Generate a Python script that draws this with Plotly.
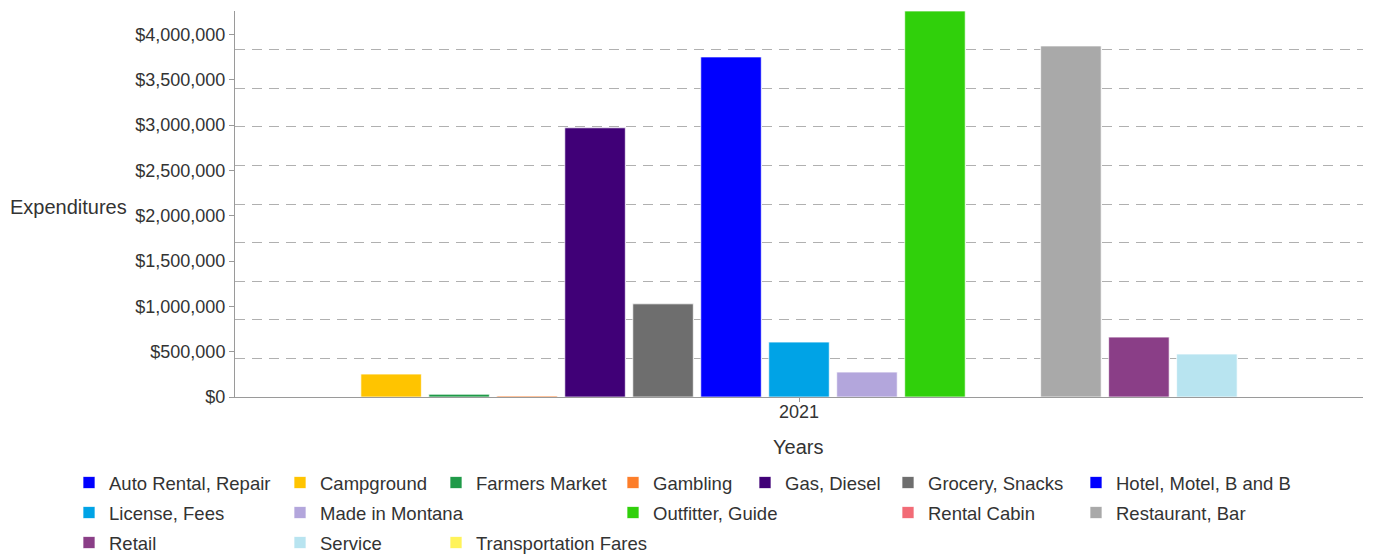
import plotly.graph_objects as go

# ---------------- data ----------------
years = ["2021"]
categories = [
    "Auto Rental, Repair", "Campground", "Farmers Market", "Gambling",
    "Gas, Diesel", "Grocery, Snacks", "Hotel, Motel, B and B",
    "License, Fees", "Made in Montana", "Outfitter, Guide", "Rental Cabin",
    "Restaurant, Bar", "Retail", "Service", "Transportation Fares",
]
values_2021 = [
    0, 253000, 30000, 12000,
    2971000, 1028000, 3753000,
    606000, 275000, 4260000, 0,
    3874000, 661000, 474000, 0,
]
colors = [
    "#0000FF", "#FFC400", "#1F9A48", "#FD7E2A",
    "#400077", "#6E6E6E", "#0000FF",
    "#00A3E6", "#B3A6DC", "#30D00B", "#F26B76",
    "#A9A9A9", "#8A3E87", "#B8E4F0", "#FFF35A",
]
ytick_vals = [0, 500000, 1000000, 1500000, 2000000, 2500000, 3000000, 3500000, 4000000]
ytick_text = ["$0", "$500,000", "$1,000,000", "$1,500,000", "$2,000,000",
              "$2,500,000", "$3,000,000", "$3,500,000", "$4,000,000"]

# ---------------- layout geometry (screen pixels) ----------------
OFF = 8                      # default page body margin
W, H = 1373 - OFF, 556 - OFF
PX0, PX1, PY0, PY1 = 235, 1363, 11, 397   # plot area in screen pixels
L, R = PX0 - OFF, W - (PX1 - OFF)
T, B = PY0 - OFF, H - (PY1 - OFF)
pw, ph = PX1 - PX0, PY1 - PY0
FONT = "Liberation Sans, Arial, sans-serif"
TXT = "#333333"
FS_TICK = 18
FS_LEG = 18.5
FS_TITLE = 20

# legend grid: (text-left px, row center px) per item, screen pixels
legend_pos = [
    (109, 483), (320, 483), (476, 483), (653, 483), (785, 483), (928, 483), (1116, 483),
    (109, 513), (320, 513), (653, 513), (928, 513), (1116, 513),
    (109, 543), (320, 543), (476, 543),
]

ymax = max(values_2021)

fig = go.Figure()
for i, (name, val, col) in enumerate(zip(categories, values_2021, colors)):
    fig.add_trace(go.Bar(
        x=years, y=[val], name=name,
        marker=dict(color=col, line=dict(color="rgba(255,255,255,0.7)", width=1)),
        legend="legend" if i == 0 else f"legend{i+1}",
    ))

# invisible trace on overlay axis for the dashed grid
fig.add_trace(go.Scatter(x=years, y=[0], yaxis="y2", mode="markers",
                         marker=dict(opacity=0), showlegend=False, hoverinfo="skip"))

legends = {}
for i, (tx, ry) in enumerate(legend_pos):
    key = "legend" if i == 0 else f"legend{i+1}"
    legends[key] = dict(
        xref="container", yref="container",
        x=(tx - OFF - 40) / W, y=(H - (ry - OFF)) / H,
        xanchor="left", yanchor="middle", orientation="h",
        font=dict(family=FONT, size=FS_LEG, color=TXT),
        bgcolor="rgba(0,0,0,0)", borderwidth=0, itemwidth=30,
    )

fig.update_layout(
    width=W, height=H,
    margin=dict(l=L, r=R, t=T, b=B, pad=0, autoexpand=False),
    paper_bgcolor="white", plot_bgcolor="white",
    barmode="group", bargap=0.096, bargroupgap=0.11,
    font=dict(family=FONT, size=FS_TICK, color=TXT),
    xaxis=dict(
        type="category", range=[-0.5, 0.5],
        showline=True, linecolor="#9a9a9a", linewidth=1,
        ticks="outside", ticklen=4, tickcolor="#9a9a9a",
        ticklabelstandoff=-6,
        showgrid=False, zeroline=False,
        tickfont=dict(family=FONT, size=FS_TICK, color=TXT),
    ),
    yaxis=dict(
        range=[0, ymax], tickvals=ytick_vals, ticktext=ytick_text,
        showline=True, linecolor="#9a9a9a", linewidth=1,
        ticks="outside", ticklen=5, tickcolor="#9a9a9a",
        showgrid=False, zeroline=False,
        tickfont=dict(family=FONT, size=FS_TICK, color=TXT),
    ),
    yaxis2=dict(
        overlaying="y", range=[0, ymax * 1.000001], tick0=0, dtick=ymax / 10,
        showticklabels=False, showgrid=True, gridcolor="#b0b0b0", gridwidth=1.2,
        griddash="10px,7px", zeroline=False, showline=False, ticks="",
    ),
    annotations=[
        dict(text="Expenditures", xref="paper", yref="paper",
             x=(129 - PX0) / pw, y=(PY1 - 207) / ph, xanchor="right", yanchor="middle",
             showarrow=False, font=dict(family=FONT, size=FS_TITLE, color=TXT)),
        dict(text="Years", xref="paper", yref="paper",
             x=(798 - PX0) / pw, y=(PY1 - 447) / ph, xanchor="center", yanchor="middle",
             showarrow=False, font=dict(family=FONT, size=FS_TITLE, color=TXT)),
    ],
    **legends,
)

fig.write_html("out.html")
